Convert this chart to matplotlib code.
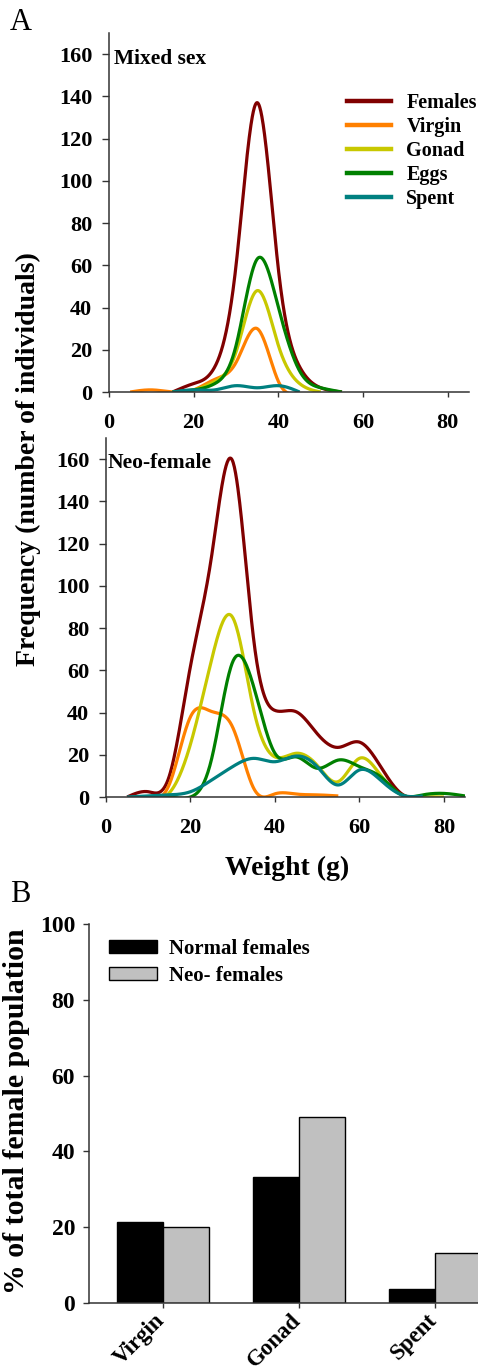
import numpy as np
import matplotlib
matplotlib.use("Agg")
import matplotlib.pyplot as plt
from matplotlib.patches import Patch
from matplotlib.lines import Line2D
import matplotlib.transforms as mtransforms

plt.rcParams['font.family'] = ['Liberation Serif', 'DejaVu Serif']
plt.rcParams['font.weight'] = 'bold'

nan = np.nan

# ---------------- data ----------------
mixed_weight = [5, 10, 15, 20, 25, 30, 35, 40, 45, 50, 55]
mixed_females = [nan, nan, 0, 4, 12, 60, 137, 58, 12, 2, 0]
mixed_virgin = [0, 1, 0, 1, 6, 14, 30, 5, 0, nan, nan]
mixed_gonad = [nan, nan, 0, 1, 5, 19, 48, 22, 4, 0, nan]
mixed_eggs = [nan, nan, 0, 1, 4, 22, 63, 40, 10, 2, 0]
mixed_spent = [nan, nan, 0, 1, 1, 3, 2, 3, 0, nan, nan]

neo_weight = [5, 10, 15, 20, 25, 30, 35, 40, 45, 50, 55, 60, 65, 70, 75, 80, 85]
neo_females = [0, 2.5, 10, 62, 114, 159, 74, 41, 40.4, 30, 23.5, 26, 14.5, 1.5, 0, nan, nan]
neo_virgin = [nan, 0, 6, 38, 40.5, 33, 4, 1.5, 1.4, 1, 0.5, nan, nan, nan, nan, nan, nan]
neo_gonad = [nan, 0, 2, 25, 65, 85, 41, 19, 20.7, 15, 7.3, 18.3, 10.4, 1, 0, 0, nan]
neo_eggs = [nan, 0, 0, 0, 18, 64, 52, 20.7, 19, 13.6, 17.5, 14.4, 9.6, 1, 1, 1.7, 0.5]
neo_spent = [0, 0.5, 1, 2.5, 8, 14.4, 18.3, 16.7, 19.4, 14.4, 5.7, 12.8, 8, 1, 0.5, nan, nan]

series_names = ["Females", "Virgin", "Gonad", "Eggs", "Spent"]
series_colors = ["#800000", "#ff8000", "#c8c800", "#008000", "#008080"]

stages = ["Virgin", "Gonad", "Spent"]
normal_pct = [21.3, 33.3, 3.6]
neo_pct = [20.1, 49.1, 13.2]


def natural_spline(x, y, xs):
    x = np.asarray(x, float); y = np.asarray(y, float)
    n = len(x)
    h = np.diff(x)
    A = np.zeros((n, n)); r = np.zeros(n)
    A[0, 0] = A[-1, -1] = 1
    for i in range(1, n - 1):
        A[i, i - 1] = h[i - 1]
        A[i, i] = 2 * (h[i - 1] + h[i])
        A[i, i + 1] = h[i]
        r[i] = 3 * ((y[i + 1] - y[i]) / h[i] - (y[i] - y[i - 1]) / h[i - 1])
    c = np.linalg.solve(A, r)
    b = (y[1:] - y[:-1]) / h - h * (2 * c[:-1] + c[1:]) / 3
    d = (c[1:] - c[:-1]) / (3 * h)
    idx = np.clip(np.searchsorted(x, xs, side='right') - 1, 0, n - 2)
    t = xs - x[idx]
    return y[idx] + b[idx] * t + c[idx] * t ** 2 + d[idx] * t ** 3


def draw_curve(ax, xw, yv, color):
    xw = np.asarray(xw, float); yv = np.asarray(yv, float)
    m = ~np.isnan(yv)
    xx, yy = xw[m], yv[m]
    xs = np.linspace(xx[0], xx[-1], 500)
    ax.plot(xs, natural_spline(xx, yy, xs), color=color, lw=2.3,
            solid_capstyle='butt')


W, H = 478, 1367
fig = plt.figure(figsize=(W / 100, H / 100), dpi=100)


def frac(l, r, t, b):
    return [l / W, 1 - b / H, (r - l) / W, (b - t) / H]


def style_axes(ax, size):
    for s in ['top', 'right']:
        ax.spines[s].set_visible(False)
    for s in ['left', 'bottom']:
        ax.spines[s].set_linewidth(1.1)
        ax.spines[s].set_color('#333333')
    ax.tick_params(axis='x', direction='out', length=3.8, width=1, color='#333333',
                   labelsize=size, pad=11)
    ax.tick_params(axis='y', direction='out', length=5, width=1, color='#333333',
                   labelsize=size, pad=7)
    for lab in ax.get_xticklabels() + ax.get_yticklabels():
        lab.set_fontweight('bold')


ax1 = fig.add_axes(frac(109, 469, 33, 392))
ax2 = fig.add_axes(frac(106, 465, 438, 797))

for ax, wts, data in [
    (ax1, mixed_weight, [mixed_females, mixed_virgin, mixed_gonad, mixed_eggs, mixed_spent]),
    (ax2, neo_weight, [neo_females, neo_virgin, neo_gonad, neo_eggs, neo_spent]),
]:
    for yv, col in zip(data, series_colors):
        draw_curve(ax, wts, yv, col)
    ax.set_xlim(0, 85)
    ax.set_ylim(0, 170)
    ax.set_xticks([0, 20, 40, 60, 80])
    ax.set_yticks(range(0, 161, 20))
    style_axes(ax, 16)

fig.text(114 / W, 1 - 59 / H, "Mixed sex", fontsize=15.5, fontweight='bold', va='center', ha='left')
fig.text(108 / W, 1 - 463 / H, "Neo-female", fontsize=15.5, fontweight='bold', va='center', ha='left')

handles = [Line2D([], [], color=c, lw=3.2) for c in series_colors]
fig.legend(handles, series_names, loc='upper left', bbox_to_anchor=(347 / W, 1 - 93 / H),
           frameon=False, handlelength=2.2, handletextpad=0.75,
           labelspacing=0.2, borderpad=0, borderaxespad=0,
           prop={'weight': 'bold', 'size': 14.5})

fig.text(28 / W, 1 - 459 / H, "Frequency (number of individuals)", rotation=90,
         fontsize=20, fontweight='bold', ha='center', va='center')
fig.text(287 / W, 1 - 868 / H, "Weight (g)", fontsize=20, fontweight='bold',
         ha='center', va='center')

fig.text(10 / W, 1 - 8 / H, "A", fontsize=22, fontweight='normal', ha='left', va='top')
fig.text(10 / W, 1 - 880 / H, "B", fontsize=22, fontweight='normal', ha='left', va='top')

# ---------------- bar panel ----------------
ax3 = fig.add_axes(frac(89, 478, 924, 1303))
pos = np.arange(len(stages))
bw = 0.34
ax3.bar(pos - bw / 2, normal_pct, bw, color='black', edgecolor='black', lw=1)
ax3.bar(pos + bw / 2, neo_pct, bw, color='#c0c0c0', edgecolor='black', lw=1)
ax3.set_xlim(-0.544, 2.316)
ax3.set_ylim(0, 100)
ax3.set_yticks(range(0, 101, 20))
ax3.set_xticks(pos)
ax3.set_xticklabels(stages)
style_axes(ax3, 17)
ax3.tick_params(axis='y', length=4, pad=6)
ax3.tick_params(axis='x', pad=3)
offset = mtransforms.ScaledTranslation(-1 / 100, -5 / 100, fig.dpi_scale_trans)
for lab in ax3.get_xticklabels():
    lab.set_rotation(45)
    lab.set_ha('right')
    lab.set_va('center')
    lab.set_rotation_mode('anchor')
    lab.set_fontsize(16.5)
    lab.set_transform(lab.get_transform() + offset)

fig.text(17 / W, 1 - 1111 / H, "% of total female population", rotation=90,
         fontsize=21.5, fontweight='bold', ha='center', va='center')

bar_handles = [Patch(facecolor='black', edgecolor='black', lw=1),
               Patch(facecolor='#c0c0c0', edgecolor='black', lw=1)]
ax3.legend(bar_handles, ['Normal females', 'Neo- females'], loc='upper left',
           bbox_to_anchor=((109 - 89) / 389, (1303 - 939) / 379),
           frameon=False, handlelength=2.3, handleheight=0.55, handletextpad=0.6,
           labelspacing=0.32, borderpad=0, borderaxespad=0,
           prop={'weight': 'bold', 'size': 15})

fig.savefig("out.png", dpi=100)
